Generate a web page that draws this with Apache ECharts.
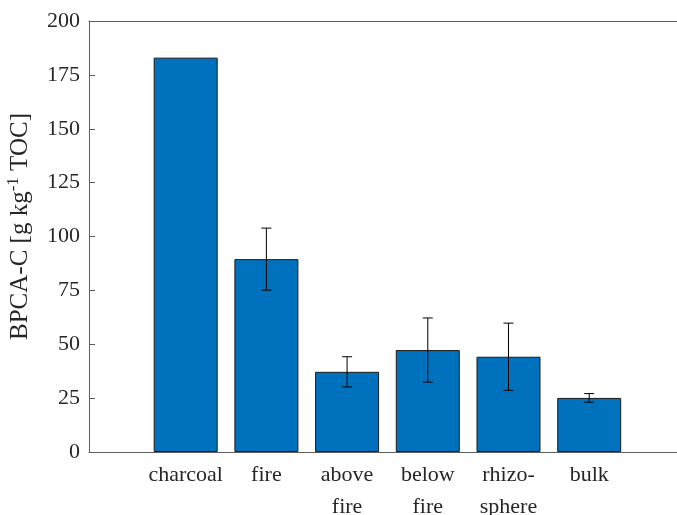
<!DOCTYPE html>
<html>
<head>
<meta charset="utf-8">
<script src="https://cdn.jsdelivr.net/npm/echarts@6/dist/echarts.min.js"></script>
<style>html,body{margin:0;padding:0;background:#fff}#c{width:677px;height:515px}</style>
</head>
<body>
<div id="c"></div>
<script>
const categories = ['charcoal', 'fire', 'above\nfire', 'below\nfire', 'rhizo-\nsphere', 'bulk'];
const values = [183, 89.5, 37.2, 47.3, 44.2, 25.1];
const errors = [null, 14.4, 7.0, 14.9, 15.6, 2.0];
const yTicks = [0, 25, 50, 75, 100, 125, 150, 175, 200];

const font = 'Liberation Serif, Times New Roman, serif';
const axisColor = '#5e5e5e';
const textColor = '#262626';
const positions = categories.map((c, i) => i + 1);
const xMin = -0.198, xMax = 7.088;

const chart = echarts.init(document.getElementById('c'), null, {renderer: 'canvas'});
chart.setOption({
  animation: false,
  backgroundColor: '#fff',
  grid: {left: 89, right: 0, top: 21, bottom: 63, containLabel: false, outerBoundsMode: 'none'},
  xAxis: [{
    type: 'value',
    min: xMin,
    max: xMax,
    splitLine: {show: false},
    axisLine: {show: true, onZero: false, lineStyle: {color: axisColor, width: 1}},
    axisTick: {show: true, inside: true, length: 6, customValues: positions, lineStyle: {color: axisColor}},
    axisLabel: {
      customValues: positions,
      formatter: v => categories[Math.round(v) - 1] || '',
      fontFamily: font, fontSize: 22, color: textColor, lineHeight: 32, margin: 7
    }
  }, {
    type: 'value',
    position: 'top',
    min: xMin,
    max: xMax,
    splitLine: {show: false},
    axisLine: {show: true, onZero: false, lineStyle: {color: axisColor, width: 1}},
    axisTick: {show: false},
    axisLabel: {show: false}
  }],
  yAxis: {
    type: 'value',
    min: yTicks[0],
    max: yTicks[yTicks.length - 1],
    interval: 25,
    splitLine: {show: false},
    axisLine: {show: true, onZero: false, lineStyle: {color: axisColor, width: 1}},
    axisTick: {show: true, inside: true, length: 6, lineStyle: {color: axisColor}},
    axisLabel: {fontFamily: font, fontSize: 22, color: textColor, margin: 9},
    name: '{a|BPCA-C [g kg}{s|-1}{a| TOC]}',
    nameLocation: 'middle',
    nameRotate: 90,
    nameGap: 54,
    nameTextStyle: {
      fontFamily: font, fontSize: 25, color: textColor,
      padding: [0, 0, 0, 20],
      rich: {
        a: {fontFamily: font, fontSize: 25, color: textColor},
        s: {fontFamily: font, fontSize: 17, color: textColor, padding: [0, 0, 13, 0]}
      }
    }
  },
  series: [
    {
      type: 'bar',
      barWidth: 64,
      itemStyle: {color: '#0072BD', borderColor: '#1a1a1a', borderWidth: 1},
      data: values.map((v, i) => [positions[i], v]),
      z: 2
    },
    {
      type: 'custom',
      z: 5,
      data: values.map((v, i) => [positions[i], v, errors[i]]),
      renderItem: function (params, api) {
        const e = api.value(2);
        if (e === null || e === undefined || isNaN(e)) return null;
        const x = api.value(0), v = api.value(1);
        const top = api.coord([x, v + e]);
        const bot = api.coord([x, v - e]);
        const hw = 5;
        const style = {stroke: '#000', lineWidth: 1};
        return {
          type: 'group',
          children: [
            {type: 'line', shape: {x1: top[0], y1: top[1], x2: bot[0], y2: bot[1]}, style: style},
            {type: 'line', shape: {x1: top[0] - hw, y1: top[1], x2: top[0] + hw, y2: top[1]}, style: style},
            {type: 'line', shape: {x1: bot[0] - hw, y1: bot[1], x2: bot[0] + hw, y2: bot[1]}, style: style}
          ]
        };
      }
    }
  ]
});
</script>
</body>
</html>
